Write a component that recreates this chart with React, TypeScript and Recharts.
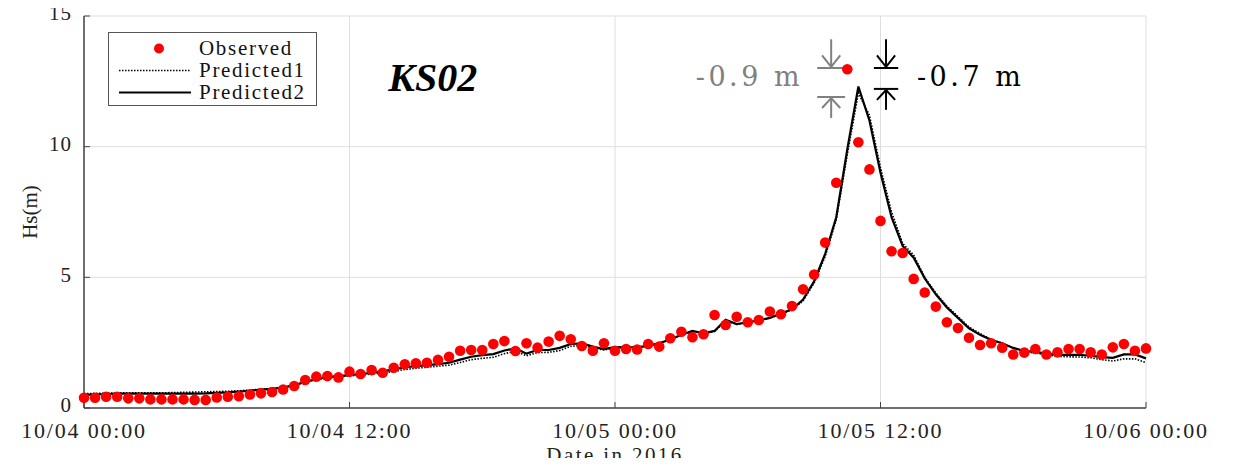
import React from 'react';
import {
  ComposedChart,
  Line,
  XAxis,
  YAxis,
  CartesianGrid,
  Legend,
  ReferenceLine,
  ReferenceDot,
} from 'recharts';

// Hs observations every 30 minutes from 10/04 00:00 to 10/06 00:00
const observed = [
  0.39, 0.39, 0.43, 0.43, 0.37, 0.37, 0.33, 0.33, 0.33, 0.33, 0.31, 0.31, 0.40, 0.43, 0.45, 0.52, 0.56, 0.61, 0.71, 0.84, 1.07, 1.20, 1.22, 1.17, 1.39,
  1.30, 1.45, 1.35, 1.54, 1.67, 1.71, 1.73, 1.84, 1.96, 2.19, 2.22, 2.22, 2.45, 2.56, 2.18, 2.48, 2.31, 2.54, 2.76, 2.63, 2.37, 2.19, 2.48, 2.19,
  2.26, 2.24, 2.45, 2.35, 2.67, 2.92, 2.71, 2.82, 3.56, 3.18, 3.49, 3.28, 3.37, 3.69, 3.59, 3.90, 4.54, 5.11, 6.33, 8.62, 12.96, 10.17, 9.13, 7.16,
  6.00, 5.93, 4.94, 4.42, 3.88, 3.28, 3.06, 2.69, 2.41, 2.48, 2.31, 2.05, 2.12, 2.26, 2.05, 2.13, 2.26, 2.26, 2.13, 2.05, 2.32, 2.45, 2.19, 2.28,
];

const predicted1 = [
  0.55, 0.56, 0.57, 0.58, 0.58, 0.58, 0.58, 0.58, 0.59, 0.60, 0.61, 0.62, 0.63, 0.64, 0.66, 0.69, 0.72, 0.75, 0.80, 0.88, 1.00, 1.08, 1.15, 1.20, 1.23,
  1.26, 1.30, 1.34, 1.40, 1.47, 1.52, 1.56, 1.60, 1.64, 1.74, 1.85, 1.90, 1.94, 2.08, 2.17, 2.00, 2.12, 2.13, 2.20, 2.36, 2.40, 2.30, 2.22, 2.30,
  2.31, 2.33, 2.37, 2.50, 2.62, 2.78, 2.92, 2.86, 2.93, 3.33, 3.20, 3.27, 3.35, 3.44, 3.60, 3.76, 4.10, 4.78, 5.80, 7.20, 9.70, 12.05, 11.20, 9.20,
  7.50, 6.30, 5.85, 5.00, 4.40, 3.90, 3.50, 3.10, 2.85, 2.62, 2.48, 2.28, 2.15, 2.10, 2.03, 1.98, 1.96, 1.95, 1.92, 1.85, 1.80, 1.88, 1.88, 1.73,
];

const predicted2 = [
  0.50, 0.52, 0.53, 0.55, 0.55, 0.55, 0.55, 0.55, 0.55, 0.55, 0.55, 0.56, 0.58, 0.60, 0.63, 0.66, 0.70, 0.73, 0.78, 0.87, 1.00, 1.10, 1.18, 1.22, 1.26,
  1.30, 1.35, 1.40, 1.48, 1.56, 1.60, 1.64, 1.68, 1.73, 1.85, 1.96, 2.02, 2.06, 2.20, 2.28, 2.08, 2.22, 2.22, 2.30, 2.45, 2.47, 2.35, 2.25, 2.33,
  2.32, 2.33, 2.37, 2.48, 2.62, 2.80, 2.95, 2.86, 2.95, 3.38, 3.21, 3.28, 3.35, 3.45, 3.62, 3.78, 4.15, 4.85, 5.90, 7.30, 9.90, 12.30, 11.00, 9.00,
  7.30, 6.20, 5.75, 4.96, 4.35, 3.85, 3.45, 3.05, 2.80, 2.60, 2.48, 2.30, 2.18, 2.15, 2.08, 2.03, 2.03, 2.03, 2.00, 1.95, 1.92, 2.05, 2.05, 1.90,
];

const stepHours = 0.5;
const xTicks = [0, 12, 24, 36, 48];
const xTickLabels = ['10/04 00:00', '10/04 12:00', '10/05 00:00', '10/05 12:00', '10/06 00:00'];
const yTicks = [0, 5, 10, 15];
const seriesNames = ['Observed', 'Predicted1', 'Predicted2'];

// Peak-difference annotations (data units: hours, metres)
const grayArrowX = 33.77;
const blackArrowX = 36.25;
const obsPeakLevel = 13.01;
const p1PeakLevel = 11.9;
const p2PeakLevel = 12.21;

const data = observed.map((v, i) => ({
  h: i * stepHours,
  obs: v,
  p1: predicted1[i],
  p2: predicted2[i],
}));

const FONT = '"Liberation Serif", "DejaVu Serif", serif';
const ANNOT_FONT = '"DejaVu Serif", "Liberation Serif", serif';
const GRAY = '#808080';

type Seg = [{ x: number; y: number }, { x: number; y: number }];

function arrowPair(x: number, upper: number, lower: number, barHalf: number): Seg[] {
  const armDx = 0.41;
  const armDy = 0.48;
  const tail = 1.1;
  return [
    [{ x: x - barHalf, y: upper }, { x: x + barHalf, y: upper }],
    [{ x, y: upper + tail }, { x, y: upper + 0.04 }],
    [{ x: x - armDx, y: upper + armDy }, { x, y: upper + 0.04 }],
    [{ x: x + armDx, y: upper + armDy }, { x, y: upper + 0.04 }],
    [{ x: x - barHalf, y: lower }, { x: x + barHalf, y: lower }],
    [{ x, y: lower - 0.04 }, { x, y: lower - 0.8 }],
    [{ x: x - armDx, y: lower - 0.42 }, { x, y: lower - 0.04 }],
    [{ x: x + armDx, y: lower - 0.42 }, { x, y: lower - 0.04 }],
  ];
}

const graySegs = arrowPair(grayArrowX, obsPeakLevel, p1PeakLevel, 0.63);
const blackSegs = arrowPair(blackArrowX, obsPeakLevel, p2PeakLevel, 0.55);

const renderLegend = () => (
  <div
    style={{
      width: 209,
      height: 74,
      boxSizing: 'border-box',
      border: '1.5px solid #555',
      background: '#fff',
      position: 'relative',
      fontFamily: FONT,
      fontSize: 21,
      color: '#111',
    }}
  >
    {seriesNames.map((name, i) => (
      <div
        key={name}
        style={{ position: 'absolute', left: 0, top: 5 + i * 22, height: 21, display: 'flex', alignItems: 'center', overflow: 'visible' }}
      >
        <svg width={90} height={21} style={{ display: 'block' }}>
          {i === 0 ? (
            <circle cx={50} cy={10.5} r={5} fill="#ff0000" />
          ) : (
            <line
              x1={10}
              x2={82}
              y1={10.5}
              y2={10.5}
              stroke="#000"
              strokeWidth={i === 1 ? 1.5 : 2}
              strokeDasharray={i === 1 ? '1.5 1.5' : undefined}
            />
          )}
        </svg>
        <span style={{ display: 'inline-block', height: 21, lineHeight: '21px', letterSpacing: 1.7, whiteSpace: 'nowrap' }}>
          {name}
        </span>
      </div>
    ))}
  </div>
);

const textShape = (txt: string, color: string, size: number, anchor: string, extra: any = {}) =>
  (p: any) => (
    <text
      x={p.cx}
      y={p.cy}
      fill={color}
      fontSize={size}
      fontFamily={FONT}
      textAnchor={anchor}
      dominantBaseline="central"
      {...extra}
    >
      {txt}
    </text>
  );

export default function App() {
  return (
    <div style={{ width: 1218, height: 466, marginTop: -8, marginBottom: -8 }}>
      <ComposedChart
        width={1218}
        height={466}
        data={data}
        margin={{ top: 16, right: 80, bottom: 18, left: 16 }}
        style={{ background: '#fff' }}
      >
        <CartesianGrid stroke="#dedede" strokeWidth={1} />
        <XAxis
          dataKey="h"
          type="number"
          domain={[0, 48]}
          ticks={xTicks}
          tickFormatter={(v: number) => xTickLabels[xTicks.indexOf(v)]}
          height={40}
          tickSize={-6}
          tickMargin={20}
          stroke="#444"
          axisLine={{ stroke: '#444', strokeWidth: 1.5 }}
          tick={{ fill: '#222', fontSize: 22, fontFamily: FONT, letterSpacing: 1.8 }}
          label={{
            content: (props: any) => {
              const vb = props.viewBox;
              return (
                <text
                  x={vb.x + vb.width / 2}
                  y={vb.y + 47}
                  textAnchor="middle"
                  dominantBaseline="central"
                  fill="#222"
                  fontSize={21}
                  fontFamily={FONT}
                  letterSpacing={2.4}
                >
                  Date in 2016
                </text>
              );
            },
          }}
        />
        <XAxis
          xAxisId="top"
          dataKey="h"
          type="number"
          orientation="top"
          domain={[0, 48]}
          ticks={[12, 24, 36]}
          height={0}
          tickSize={-6}
          tick={false}
          axisLine={{ stroke: '#444', strokeWidth: 1.5 }}
          stroke="#444"
        />
        <YAxis
          type="number"
          domain={[0, 15]}
          ticks={yTicks}
          width={60}
          tickSize={-6}
          tickMargin={18}
          stroke="#444"
          axisLine={{ stroke: '#444', strokeWidth: 1.5 }}
          tick={{ fill: '#222', fontSize: 21, fontFamily: FONT, letterSpacing: 1, dy: -3 }}
          label={{
            content: (props: any) => {
              const vb = props.viewBox;
              const cx = vb.x + 6;
              const cy = vb.y + vb.height / 2;
              return (
                <text
                  x={cx}
                  y={cy}
                  transform={`rotate(-90 ${cx} ${cy})`}
                  textAnchor="middle"
                  dominantBaseline="central"
                  fill="#222"
                  fontSize={21}
                  fontFamily={FONT}
                >
                  Hs(m)
                </text>
              );
            },
          }}
        />
        <YAxis
          yAxisId="right"
          orientation="right"
          type="number"
          domain={[0, 15]}
          ticks={[5, 10]}
          width={0}
          tickSize={-6}
          tick={false}
          stroke="#444"
          axisLine={{ stroke: '#444', strokeWidth: 1.5 }}
        />
        <Legend
          layout="vertical"
          align="center"
          verticalAlign="middle"
          content={renderLegend}
          wrapperStyle={{ left: 100, top: 32, width: 209, height: 74 }}
        />
        <Line
          dataKey="obs"
          name="Observed"
          stroke="none"
          isAnimationActive={false}
          dot={{ r: 5.3, fill: '#ff0000', stroke: 'none' }}
          activeDot={false}
          legendType="circle"
        />
        <Line
          dataKey="p1"
          name="Predicted1"
          type="linear"
          stroke="#000"
          strokeWidth={1.6}
          strokeDasharray="1.5 1.5"
          dot={false}
          activeDot={false}
          isAnimationActive={false}
        />
        <Line
          dataKey="p2"
          name="Predicted2"
          type="linear"
          stroke="#000"
          strokeWidth={2.2}
          dot={false}
          activeDot={false}
          isAnimationActive={false}
        />
        {graySegs.map((s, i) => (
          <ReferenceLine key={`g${i}`} segment={s} stroke={GRAY} strokeWidth={2} />
        ))}
        {blackSegs.map((s, i) => (
          <ReferenceLine key={`b${i}`} segment={s} stroke="#000" strokeWidth={2} />
        ))}
        <ReferenceDot
          x={32.5}
          y={12.67}
          r={0}
          shape={textShape('-0.9 m', GRAY, 27, 'end', { letterSpacing: 3.5, fontFamily: ANNOT_FONT })}
        />
        <ReferenceDot
          x={37.65}
          y={12.67}
          r={0}
          shape={textShape('-0.7 m', '#000', 27, 'start', { letterSpacing: 3.5, fontFamily: ANNOT_FONT })}
        />
        <ReferenceDot
          x={15.76}
          y={12.63}
          r={0}
          shape={textShape('KS02', '#000', 40, 'middle', { fontWeight: 'bold', fontStyle: 'italic' })}
        />
      </ComposedChart>
    </div>
  );
}
